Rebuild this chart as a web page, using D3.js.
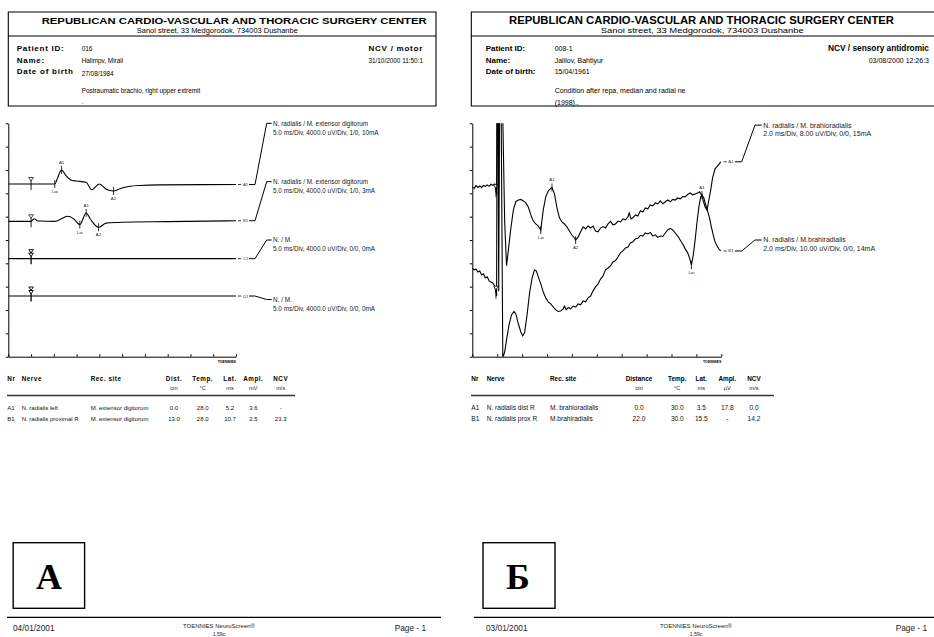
<!DOCTYPE html>
<html>
<head>
<meta charset="utf-8">
<style>
    body { margin: 0; background: #fff; }
    svg { display: block; font-family: 'Liberation Sans', Arial, sans-serif; }
</style>
</head>
<body>
<svg width="934" height="637"></svg>

<script src="https://cdn.jsdelivr.net/npm/d3@7/dist/d3.min.js"></script>
<script>
    // ---------- page A : NCV motor (5 ms/div, 4 mV/div) ----------
    const motorIds = ["A1", "B1", "C1", "D1"];
    const motorBaseDiv = [7.4, 5.8, 4.2, 2.6];
    const motorStimMs = 5;
    // [ms, mV] (up = positive)
    const motorA1 = [[0, 0], [5, 0], [10.2, 0], [10.8, 1.0], [11.7, 2.4], [12.7, 1.4], [14.0, 0.6], [15.0, 0.5],
        [17.1, 0.3], [18.3, -1.0], [20.0, 0.0], [21.5, -0.9], [23.1, -1.2], [24.5, -0.8], [26.7, -0.4],
        [28.9, -0.25], [33.3, -0.15], [50, -0.1]];
    const motorB1 = [[0, 0], [5, 0], [5.3, 0.2], [5.7, 0.45], [6.3, 0.1], [6.8, 0.05], [10.2, 0], [12.0, 0.57],
        [13.0, 0.86], [14.3, 0.47], [15.7, -0.57], [17.1, 1.44], [18.0, 0.4], [19.8, -1.03], [21.5, -0.3],
        [25, -0.15], [35, -0.05], [50, 0.1]];
    const motorC1 = [[0, 0], [50, 0]];
    const motorD1 = [[0, 0], [50, 0]];
    const motorA1Marks = [["Lat", 10.2], ["A1", 11.7], ["A2", 23.1]];
    const motorB1Marks = [["Lat", 15.7], ["A1", 17.1], ["A2", 19.8]];
    const motorNames = ["N. radialis / M. extensor digitorum", "N. radialis / M. extensor digitorum", "N. / M.", "N. / M."];
    const motorSettings = ["5.0 ms/Div, 4000.0 uV/Div, 1/0, 10mA", "5.0 ms/Div, 4000.0 uV/Div, 1/0, 3mA",
        "5.0 ms/Div, 4000.0 uV/Div, 0/0, 0mA", "5.0 ms/Div, 4000.0 uV/Div, 0/0, 0mA"];

    const motorHead = ["Nr", "Nerve", "Rec. site", "Dist.", "Temp.", "Lat.", "Ampl.", "NCV"];
    const motorUnits = ["cm", "°C", "ms", "mV", "m/s"];
    const motorRows = [
        ["A1", "N. radialis left", "M. extensor digitorum", "0.0", "28.0", "5.2", "3.6", "-"],
        ["B1", "N. radialis proximal R", "M. extensor digitorum", "13.0", "28.0", "10.7", "2.5", "23.3"]
    ];

    // ---------- page Б : NCV sensory antidromic (2 ms/div) ----------
    const sensIds = ["A1", "B1"];
    const sensBaseDiv = [7.3, 4.0];
    const sensUvPerDiv = [8, 10];
    const sensStimMs = 1.9;
    // [ms, uV]
    const sensA1 = [[0, -0.2], [0.15, -0.7], [0.3, 0.3], [0.45, -0.4], [0.6, 0.1], [0.75, -0.4], [0.9, 0.3],
        [1.05, 0], [1.2, 0.5], [1.35, 0], [1.5, 0.7], [1.65, 0.3], [1.8, 0.8], [1.95, -2.9],
        [2.0, 40], [2.06, 40], [2.12, -2], [2.18, 40], [2.38, 40], [2.6, -12], [2.75, -27.2], [2.9, -21.8],
        [3.1, -14.3], [3.3, -8.1], [3.5, -5.2], [3.7, -4.7], [3.9, -4.5], [4.1, -5.0], [4.3, -5.7], [4.5, -7.1],
        [4.7, -9.8], [4.9, -11.9], [5.1, -12.9], [5.3, -13.6], [5.5, -15.0], [5.7, -8.1], [5.9, -3.6],
        [6.1, -1.6], [6.3, -0.7], [6.4, -0.4], [6.6, -2.6], [6.8, -7.4], [7.0, -10.8], [7.2, -12.2],
        [7.4, -12.9], [7.6, -13.9], [7.8, -15.3], [8.0, -16.7], [8.2, -17.7], [8.3, -18.4], [8.5, -17.4],
        [8.7, -15.6], [8.9, -13.9], [9.1, -14.6], [9.3, -13.6], [9.5, -14.3], [9.7, -13.6], [9.9, -15.3],
        [10.1, -15.6], [10.3, -14.3], [10.5, -13.8], [10.7, -14.3], [10.9, -12.9], [11.1, -12.0], [11.3, -13.2],
        [11.5, -12.9], [11.7, -11.9], [11.9, -12.2], [12.1, -11.2], [12.3, -11.5], [12.5, -10.5], [12.6, -9.1],
        [12.75, -11.2], [12.9, -10.8], [13.1, -9.8], [13.3, -10.2], [13.5, -8.4], [13.7, -8.8], [13.9, -7.4],
        [14.1, -7.7], [14.3, -6.4], [14.5, -6.7], [14.7, -5.7], [14.9, -6.0], [15.1, -5.0], [15.3, -6.0],
        [15.5, -5.3], [15.7, -4.7], [15.9, -5.3], [16.1, -4.5], [16.3, -4.7], [16.5, -4.0], [16.7, -4.3],
        [16.9, -3.5], [17.1, -3.6], [17.3, -2.8], [17.5, -2.3], [17.7, -2.9], [17.9, -2.6], [18.1, -2.3],
        [18.25, -1.9], [18.4, -2.9], [18.55, -5.0], [18.7, -7.1], [18.85, -8.1], [19.0, -4.7], [19.15, -1.2],
        [19.3, 2.9], [19.5, 6.0], [19.7, 7.0], [19.85, 7.7], [19.95, 8.4]];
    const sensB1 = [[0, -2.1], [0.15, -2.8], [0.3, -2.4], [0.45, -3.7], [0.6, -3.3], [0.75, -5.0], [0.9, -4.5],
        [1.05, -6.3], [1.2, -5.8], [1.35, -7.5], [1.5, -8.0], [1.65, -8.4], [1.8, -9.7], [1.95, -14.0],
        [2.0, 80], [2.06, 80], [2.12, -12], [2.2, 80], [2.3, 80], [2.45, -40.5], [2.6, -38], [2.75, -32.8],
        [2.95, -26.4], [3.15, -22.1], [3.35, -20.6], [3.5, -21.7], [3.7, -26.0], [3.9, -29.4], [4.05, -31.1],
        [4.2, -29.8], [4.4, -22.1], [4.6, -12.7], [4.8, -6.3], [5.0, -2.8], [5.15, -3.3], [5.3, -5.8],
        [5.5, -8.8], [5.7, -12.3], [5.9, -14.8], [6.1, -16.5], [6.3, -17.4], [6.5, -18.7], [6.7, -19.9],
        [6.9, -20.6], [7.1, -20.4], [7.3, -19.5], [7.4, -18.3], [7.55, -19.9], [7.7, -18.9], [7.9, -19.5],
        [8.1, -18.3], [8.3, -18.7], [8.5, -17.4], [8.7, -17.8], [8.9, -16.1], [9.1, -16.5], [9.3, -14.8],
        [9.5, -14.0], [9.7, -11.8], [9.9, -10.1], [10.1, -8.8], [10.3, -6.7], [10.5, -5.4], [10.7, -2.8],
        [10.9, -2.0], [11.1, -1.1], [11.3, 0.6], [11.5, 1.2], [11.7, 2.7], [11.9, 4.5], [12.1, 5.3],
        [12.3, 6.6], [12.5, 7.0], [12.7, 8.7], [12.9, 9.2], [13.1, 10.5], [13.3, 10.7], [13.5, 12.0],
        [13.7, 11.7], [13.9, 13.0], [14.1, 12.6], [14.3, 13.2], [14.5, 11.7], [14.7, 12.2], [14.9, 11.1],
        [15.1, 11.7], [15.3, 11.5], [15.5, 13.0], [15.7, 14.3], [15.9, 15.0], [16.1, 14.3], [16.3, 13.0],
        [16.5, 11.7], [16.7, 10.0], [16.9, 8.3], [17.1, 6.2], [17.3, 4.5], [17.45, 2.3], [17.6, -0.7],
        [17.75, 3.6], [17.9, 10.0], [18.05, 17.7], [18.2, 24.2], [18.35, 28.5], [18.45, 29.3], [18.6, 28.0],
        [18.75, 25.0], [18.9, 22.5], [19.05, 19.5], [19.2, 15.6], [19.35, 12.2], [19.5, 9.2], [19.65, 7.5],
        [19.8, 6.2], [19.95, 5.3]];
    const sensA1Marks = [["Lat", 5.5], ["A1", 6.4], ["A2", 8.3]];
    const sensB1Marks = [["Lat", 17.6], ["A1", 18.45]];
    const sensNames = ["N. radialis / M. brahioradialis", "N. radialis / M.brahiradialis"];
    const sensSettings = ["2.0 ms/Div, 8.00 uV/Div, 0/0, 15mA", "2.0 ms/Div, 10.00 uV/Div, 0/0, 14mA"];

    const sensHead = ["Nr", "Nerve", "Rec. site", "Distance", "Temp.", "Lat.", "Ampl.", "NCV"];
    const sensUnits = ["cm", "°C", "ms", "µV", "m/s"];
    const sensRows = [
        ["A1", "N. radialis dist R", "M. brahioradialis", "0.0", "30.0", "3.5", "17.8", "0.0"],
        ["B1", "N. radialis prox R", "M.brahiradialis", "22.0", "30.0", "15.5", "-", "14.2"]
    ];

    let svg = d3.select("svg");

    function txt(x, y, s, size, o = {}) {
        let e = svg.append("text").attr("x", x).attr("y", y).attr("font-size", size).text(s)
        if (o.bold) e.attr("font-weight", "bold")
        if (o.anchor) e.attr("text-anchor", o.anchor)
        if (o.ls) e.attr("letter-spacing", o.ls)
        if (o.len) e.attr("textLength", o.len).attr("lengthAdjust", "spacingAndGlyphs")
        if (o.fill) e.attr("fill", o.fill)
        if (o.family) e.attr("font-family", o.family)
        return e
    }

    function valAt(pts, t) {
        let i = d3.bisector(d => d[0]).left(pts, t)
        if (i <= 0) return pts[0][1]
        if (i >= pts.length) return pts[pts.length - 1][1]
        let a = pts[i - 1], b = pts[i]
        return a[1] + (b[1] - a[1]) * (t - a[0]) / (b[0] - a[0])
    }

    const PT = 123.3, PB = 356.7;

    function drawPanel(p) {
        let x = d3.scaleLinear().domain([0, p.xMax]).range([p.left, p.right])
        let y = d3.scaleLinear().domain([0, 10]).range([PB, PT])
        let g = svg.append("g")

        // axes (ticks only, no labels)
        g.append("g").attr("transform", `translate(0,${PB})`)
            .call(d3.axisBottom(x).tickValues(d3.range(11).map(i => i * p.xMax / 10))
                .tickSize(-2.5).tickSizeOuter(0).tickFormat(""))
        g.append("g").attr("transform", `translate(${p.left},0)`)
            .call(d3.axisLeft(y).tickValues(d3.range(11)).tickSize(2.5).tickSizeOuter(0).tickFormat(""))
        g.selectAll(".domain, .tick line").attr("stroke", "#000").attr("stroke-width", 1)

        txt(p.right, 362.5, "TOENNIES", 3.6, { bold: true, anchor: "end" })

        let clipId = "clip" + p.key
        svg.append("clipPath").attr("id", clipId).append("rect")
            .attr("x", p.left).attr("y", PT).attr("width", p.right - p.left + 1).attr("height", PB - PT)

        p.traces.forEach((tr, k) => {
            let yy = v => y(tr.base + v / tr.perDiv)
            let line = d3.line().x(d => x(d[0])).y(d => yy(d[1])).curve(p.curve)
            g.append("path").attr("d", line(tr.pts)).attr("clip-path", `url(#${clipId})`)
                .attr("fill", "none").attr("stroke", "#000").attr("stroke-width", 1.1)

            // stimulus marker
            let sx = x(p.stim), sy = yy(valAt(tr.pts, p.stim))
            if (tr.dbl) {
                g.append("line").attr("x1", sx).attr("x2", sx).attr("y1", sy - 9).attr("y2", sy + 5.5)
                    .attr("stroke", "#000").attr("stroke-width", 1.3)
                ;[-9, -5.5].forEach(o => {
                    g.append("path").attr("d", `M${sx - 2.3},${sy + o}L${sx + 2.3},${sy + o}L${sx},${sy + o + 3.3}Z`)
                        .attr("fill", "#fff").attr("stroke", "#000").attr("stroke-width", 0.9)
                })
            } else {
                g.append("line").attr("x1", sx).attr("x2", sx).attr("y1", sy - 6.5).attr("y2", sy + 6)
                    .attr("stroke", "#000").attr("stroke-width", 0.9)
                g.append("path").attr("d", `M${sx - 2.4},${sy - 6.5}L${sx + 2.4},${sy - 6.5}L${sx},${sy - 3}Z`)
                    .attr("fill", "#fff").attr("stroke", "#000").attr("stroke-width", 0.7)
            }

            // latency / amplitude markers
            tr.marks.forEach(m => {
                let mx = x(m[1]), my = yy(valAt(tr.pts, m[1]))
                g.append("line").attr("x1", mx).attr("x2", mx).attr("y1", my - 4).attr("y2", my + 4)
                    .attr("stroke", "#000").attr("stroke-width", 0.8)
                let above = m[0] === "A1"
                txt(mx, above ? my - 6 : my + 9, m[0], 4.3, { anchor: "middle", fill: "#222" })
            })

            // connector to the channel description
            let last = tr.pts[tr.pts.length - 1]
            let ex = x(last[0]), ey = yy(last[1])
            let c = p.conn, ly = y(p.labelDiv[k])
            g.append("line").attr("x1", ex + c[0]).attr("x2", ex + c[1]).attr("y1", ey).attr("y2", ey)
                .attr("stroke", "#000").attr("stroke-width", 0.8)
            txt(ex + c[2], ey + 1.5, tr.id, 4.3, { fill: "#333" })
            g.append("path").attr("d", `M${ex + c[3]},${ey}H${ex + c[4]}L${ex + c[5]},${ly}H${ex + c[6]}`)
                .attr("fill", "none").attr("stroke", "#000").attr("stroke-width", 1)
            txt(ex + c[7], ly + 2.4, tr.name, p.labelSize, { fill: "#222" })
            txt(ex + c[7], ly + 2.4 + p.labelGap, tr.settings, p.labelSize, { fill: "#222" })
        })
    }

    drawPanel({
        key: "A", left: 8.3, right: 236, xMax: 50, stim: motorStimMs, curve: d3.curveMonotoneX,
        conn: [2, 5, 7, 13, 19, 30.7, 35.7, 37], labelDiv: [10, 7.5, 5.0, 2.45], labelSize: 6.4, labelGap: 9,
        traces: [motorA1, motorB1, motorC1, motorD1].map((pts, i) => ({
            id: motorIds[i], pts: pts, base: motorBaseDiv[i], perDiv: 4,
            marks: [motorA1Marks, motorB1Marks, [], []][i], dbl: i >= 2,
            name: motorNames[i], settings: motorSettings[i]
        }))
    })

    drawPanel({
        key: "B", left: 472.3, right: 721.3, xMax: 20, stim: sensStimMs, curve: d3.curveLinear,
        conn: [3, 6, 7.6, 14.3, 21, 34.3, 41, 42.6], labelDiv: [9.92, 5.0], labelSize: 7, labelGap: 8.5,
        traces: [sensA1, sensB1].map((pts, i) => ({
            id: sensIds[i], pts: pts, base: sensBaseDiv[i], perDiv: sensUvPerDiv[i],
            marks: [sensA1Marks, sensB1Marks][i], dbl: false,
            name: sensNames[i], settings: sensSettings[i]
        }))
    })

    // ---------- headers ----------
    function box(x0, x1) {
        svg.append("path").attr("d", `M${x0},106V12H${x1}V106Z M${x0},36H${x1}`)
            .attr("fill", "none").attr("stroke", "#000").attr("stroke-width", 1.1)
    }
    box(8.3, 436)
    box(471.3, 960)

    txt(234.2, 24, "REPUBLICAN CARDIO-VASCULAR AND THORACIC SURGERY CENTER", 9.4, { bold: true, anchor: "middle", len: 385 })
    txt(217.3, 33.3, "Sanoi street, 33 Medgorodok,  734003 Dushanbe", 6.4, { anchor: "middle", len: 161 })
    txt(16.7, 51, "Patient ID:", 8, { bold: true, ls: 0.75 })
    txt(16.7, 62.5, "Name:", 8, { bold: true, ls: 0.75 })
    txt(16.7, 74.3, "Date of birth", 8, { bold: true, ls: 0.75 })
    txt(81.7, 51, "016", 6.4)
    txt(81.7, 62.5, "Halimpv, Mirali", 6.4)
    txt(81.7, 75.8, "27/08/1984", 6.4)
    txt(81.7, 92.5, "Postraumatic brachio, right upper extremit", 6.4)
    txt(81.7, 104, ".", 6.4)
    txt(423, 51, "NCV  /  motor", 8, { bold: true, ls: 0.75, anchor: "end" })
    txt(423, 63, "31/10/2000    11:50:1", 6.4, { anchor: "end" })

    txt(701.5, 24, "REPUBLICAN CARDIO-VASCULAR AND THORACIC SURGERY CENTER", 10, { bold: true, anchor: "middle", len: 385 })
    txt(702.3, 33.3, "Sanoi street, 33 Medgorodok,  734003 Dushanbe", 7.5, { anchor: "middle", len: 203 })
    txt(485.7, 51, "Patient ID:", 8, { bold: true })
    txt(485.7, 62.5, "Name:", 8, { bold: true })
    txt(485.7, 74.3, "Date of birth:", 8, { bold: true })
    txt(554.7, 51, "008-1", 7)
    txt(554.7, 62.5, "Jalilov, Bahtiyur", 7)
    txt(554.7, 74.3, "15/04/1961", 7)
    txt(554.7, 92.5, "Condition after repa, median and radial ne", 7)
    txt(554.7, 104.5, "(1998).,", 7)
    txt(929, 51, "NCV  / sensory antidromic", 8.3, { bold: true, anchor: "end" })
    txt(929, 63, "03/08/2000    12:26:3", 7, { anchor: "end" })

    // ---------- tables ----------
    function table(head, units, rows, textX, numX, lineX, o) {
        head.forEach((h, i) => {
            if (i < 3) txt(textX[i], 380.5, h, o.hs, { bold: true, ls: o.ls })
            else txt(numX[i - 3], 380.5, h, o.hs, { bold: true, ls: o.ls, anchor: "middle" })
        })
        units.forEach((u, i) => txt(numX[i], 389.5, u, o.us, { anchor: "middle", fill: "#222" }))
        svg.append("line").attr("x1", lineX[0]).attr("x2", lineX[1]).attr("y1", 395.5).attr("y2", 395.5)
            .attr("stroke", "#333").attr("stroke-width", 1.6)
        rows.forEach((r, j) => {
            let yy = 410 + j * 11
            r.forEach((v, i) => {
                if (i < 3) txt(textX[i], yy, v, o.rs, { fill: "#111" })
                else txt(numX[i - 3], yy, v, o.rs, { anchor: "middle", fill: "#111" })
            })
        })
    }
    table(motorHead, motorUnits, motorRows, [7.3, 21.7, 90.7], [174, 202.7, 230, 253.3, 280.7], [7, 295],
        { hs: 6.3, ls: 0.55, us: 5.6, rs: 6 })
    table(sensHead, sensUnits, sensRows, [471.3, 486.7, 550], [639, 677.3, 701.3, 727.3, 754], [471, 774],
        { hs: 6.4, ls: 0, us: 5.8, rs: 6.6 })

    // ---------- panel letters ----------
    svg.append("rect").attr("x", 13.2).attr("y", 542.7).attr("width", 71.4).attr("height", 65.6)
        .attr("fill", "none").attr("stroke", "#000").attr("stroke-width", 1.4)
    svg.append("rect").attr("x", 483).attr("y", 542.7).attr("width", 72).attr("height", 65.6)
        .attr("fill", "none").attr("stroke", "#000").attr("stroke-width", 1.4)
    txt(48.9, 588.5, "А", 36, { bold: true, anchor: "middle", family: "'Liberation Serif', 'DejaVu Serif', serif" })
    txt(518, 588.5, "Б", 36, { bold: true, anchor: "middle", family: "'Liberation Serif', 'DejaVu Serif', serif" })

    // ---------- footers ----------
    svg.append("line").attr("x1", 7).attr("x2", 441).attr("y1", 617.3).attr("y2", 617.3)
        .attr("stroke", "#000").attr("stroke-width", 1.3)
    svg.append("line").attr("x1", 474).attr("x2", 934).attr("y1", 617.3).attr("y2", 617.3)
        .attr("stroke", "#000").attr("stroke-width", 1.3)
    txt(13, 630.5, "04/01/2001", 8.3, { fill: "#222" })
    txt(219, 627.5, "TOENNIES NeuroScreen®", 6, { anchor: "middle", fill: "#222" })
    txt(219, 635.5, "1.59c", 5.2, { anchor: "middle", fill: "#222" })
    txt(426, 630.5, "Page - 1", 8.3, { anchor: "end", fill: "#222" })
    txt(486, 630.5, "03/01/2001", 8.3, { fill: "#222" })
    txt(696, 627.5, "TOENNIES NeuroScreen®", 6, { anchor: "middle", fill: "#222" })
    txt(696, 635.5, "1.59c", 5.2, { anchor: "middle", fill: "#222" })
    txt(927, 630.5, "Page - 1", 8.3, { anchor: "end", fill: "#222" })
</script>
</body>
</html>
